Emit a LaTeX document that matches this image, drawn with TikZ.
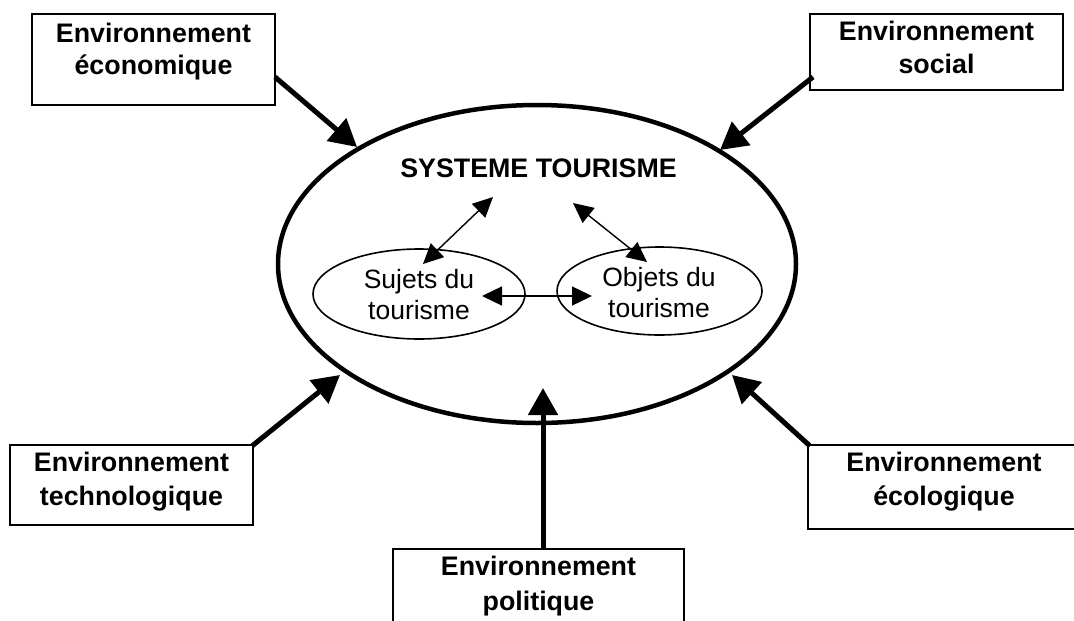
\documentclass[tikz,border=0pt]{standalone}
\usepackage{fontspec}
\setmainfont{Liberation Sans}
\usetikzlibrary{arrows.meta,shapes.geometric}
\begin{document}
\begin{tikzpicture}[x=1pt,y=-1pt,
  envbox/.style={draw, rectangle, line width=1.3pt, inner sep=0pt},
  envtext/.style={anchor=base, inner sep=0pt, font=\bfseries\fontsize{26.8}{32}\selectfont},
  subtext/.style={anchor=base, inner sep=0pt, font=\fontsize{26.5}{31}\selectfont},
  system/.style={draw, ellipse, line width=4.5pt, inner sep=0pt},
  part/.style={draw, ellipse, line width=1.6pt, inner sep=0pt},
  influence/.style={line width=5pt, -{Triangle[length=27pt,width=29pt]}},
  exchange/.style={line width=1.4pt, {Triangle[length=20pt,width=19pt]}-{Triangle[length=20pt,width=19pt]}}
]
\useasboundingbox (0,0) rectangle (1074,621);

% tourism system and its two components
\node[system, minimum width=518pt, minimum height=318pt] (sys) at (537,264) {};
\node[envtext] (systitle) at (538.5,177) {SYSTEME TOURISME};

\node[part, minimum width=212pt, minimum height=90pt] (suj) at (419,294) {};
\node[subtext] (suj1) at (419,288) {Sujets du};
\node[subtext] (suj2) at (419,319) {tourisme};

\node[part, minimum width=205pt, minimum height=88pt] (obj) at (659.5,291) {};
\node[subtext] (obj1) at (659,286) {Objets du};
\node[subtext] (obj2) at (659,317) {tourisme};

% environments
\node[envbox, minimum width=243pt, minimum height=91pt] (eco) at (153.5,59.5) {};
\node[envtext] (eco1) at (153.5,42) {Environnement};
\node[envtext] (eco2) at (153.5,74) {économique};

\node[envbox, minimum width=253pt, minimum height=76pt] (soc) at (936.5,52) {};
\node[envtext] (soc1) at (936.5,40) {Environnement};
\node[envtext] (soc2) at (936.5,73) {social};

\node[envbox, minimum width=243pt, minimum height=80pt] (tech) at (131.5,485) {};
\node[envtext] (tech1) at (131.5,471) {Environnement};
\node[envtext] (tech2) at (131.5,505) {technologique};

\node[envbox, minimum width=272pt, minimum height=84pt] (ecol) at (944,487) {};
\node[envtext] (ecol1) at (944,471) {Environnement};
\node[envtext] (ecol2) at (944,505) {écologique};

\node[envbox, minimum width=291pt, minimum height=110pt] (pol) at (538.5,604) {};
\node[envtext] (pol1) at (538.5,575) {Environnement};
\node[envtext] (pol2) at (538.5,610) {politique};

% connector ends
\coordinate (ecoOut) at (275,77);
\coordinate (ecoIn) at (357,147);
\coordinate (socOut) at (813,77);
\coordinate (socIn) at (720,150);
\coordinate (techOut) at (252,446);
\coordinate (techIn) at (340,375);
\coordinate (ecolOut) at (810,446);
\coordinate (ecolIn) at (732,375);
\coordinate (polOut) at (543,549);
\coordinate (polIn) at (543,388);

\coordinate (sujUp) at (493,197);
\coordinate (sujIn) at (423,264);
\coordinate (objUp) at (573,203);
\coordinate (objIn) at (647,262);
\coordinate (sujSide) at (482,296);
\coordinate (objSide) at (592,296);

% influences of the environments
\draw[influence] (ecoOut) -- (ecoIn);
\draw[influence] (socOut) -- (socIn);
\draw[influence] (techOut) -- (techIn);
\draw[influence] (ecolOut) -- (ecolIn);
\draw[influence] (polOut) -- (polIn);

% exchanges inside the system
\draw[exchange] (sujIn) -- (sujUp);
\draw[exchange] (objUp) -- (objIn);
\draw[exchange] (sujSide) -- (objSide);
\end{tikzpicture}
\end{document}
